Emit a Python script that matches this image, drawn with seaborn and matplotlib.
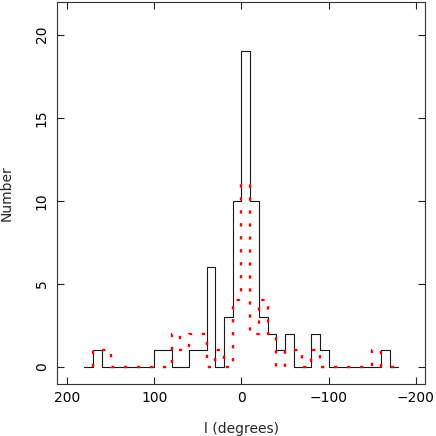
import numpy as np
import pandas as pd
import matplotlib
matplotlib.use("Agg")
import matplotlib.pyplot as plt
import seaborn as sns

# ---- data ----
black_edges = list(range(180, -190, -10))          # 37 bin edges, 180 -> -180
black_counts = [0, 1, 0, 0, 0, 0, 0, 0, 1, 1, 0, 0, 1, 1, 6, 0, 3, 10,
                19, 10, 3, 2, 1, 2, 0, 0, 2, 1, 0, 0, 0, 0, 0, 0, 1, 0]
red_edges = list(range(170, -190, -10))            # 36 bin edges, 170 -> -180
red_counts = [1, 1, 0, 0, 0, 0, 0, 0, 0, 2, 1, 2, 2, 0, 1, 0, 4, 11,
              2, 4, 2, 0, 1, 1, 0, 1, 0, 0, 0, 0, 0, 0, 1, 0, 0]
x_ticks = [200, 100, 0, -100, -200]
y_ticks = [0, 5, 10, 15, 20]

sns.set_style("ticks")
plt.rcParams["font.family"] = ["DejaVu Sans"]
plt.rcParams["font.size"] = 10

fig = plt.figure(figsize=(4.36, 4.36), dpi=100)
ax = fig.add_axes([57 / 436, 1 - 383.5 / 436, 368 / 436, 381.5 / 436])

df_black = pd.DataFrame({"l": black_edges, "n": [0] + black_counts})
df_red = pd.DataFrame({"l": red_edges, "n": [0] + red_counts})

sns.lineplot(data=df_black, x="l", y="n", ax=ax, sort=False, estimator=None,
             drawstyle="steps-pre", color="#1a1a1a", linewidth=0.8)
sns.lineplot(data=df_red, x="l", y="n", ax=ax, sort=False, estimator=None,
             drawstyle="steps-pre", color="#ff0000", linewidth=1.7)
red_line = ax.lines[-1]
red_line.set_linestyle((0, (1.4, 4.1)))
red_line.set_dash_capstyle("butt")

ax.set_xlim(211.5, -210.5)
ax.set_ylim(-1.0, 21.97)
ax.set_xticks(x_ticks)
ax.set_yticks(y_ticks)
ax.tick_params(direction="in", length=5, width=0.8, top=True, right=True,
               labeltop=False, labelright=False, colors="#222222",
               labelcolor="black", labelsize=10)
ax.tick_params(axis="x", pad=5.5)
ax.tick_params(axis="y", pad=6)
for lab in ax.get_yticklabels():
    lab.set_rotation(90)
    lab.set_va("center")
for s in ax.spines.values():
    s.set_linewidth(0.8)
    s.set_color("#333333")

ax.set_xlabel("l (degrees)", fontsize=10, labelpad=12)
ax.set_ylabel("Number", fontsize=10, labelpad=15)

fig.savefig("out.png", dpi=100)
